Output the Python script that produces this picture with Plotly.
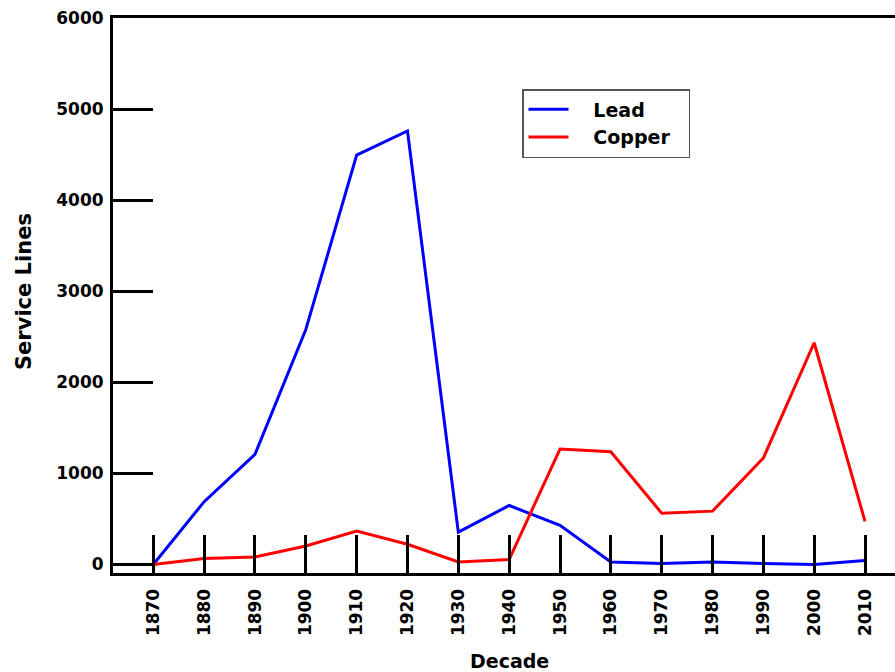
import plotly.graph_objects as go

decades = [1870, 1880, 1890, 1900, 1910, 1920, 1930, 1940, 1950, 1960, 1970, 1980, 1990, 2000, 2010]
lead = [0, 690, 1210, 2580, 4495, 4760, 356, 648, 430, 28, 11, 28, 11, 0, 45]
copper = [0, 66, 83, 203, 367, 222, 28, 55, 1268, 1238, 564, 586, 1169, 2435, 473]
y_ticks = [0, 1000, 2000, 3000, 4000, 5000, 6000]
x_tick_labels = [str(d) for d in decades]
series_names = ["Lead", "Copper"]

FONT = "DejaVu Sans, Verdana, sans-serif"

W, H = 895, 672
L, R, T, B = 113, 0, 18, 99
plot_w = W - L - R
plot_h = H - T - B

NB = "\u00a0"
fig = go.Figure()
fig.add_trace(go.Scatter(x=decades, y=lead, mode="lines",
                         name=NB * 3 + series_names[0],
                         line=dict(color="#0000ff", width=3)))
fig.add_trace(go.Scatter(x=decades, y=copper, mode="lines",
                         name=NB * 3 + series_names[1] + NB * 2,
                         line=dict(color="#ff0000", width=3)))

fig.update_layout(
    width=W, height=H,
    margin=dict(l=L, r=R, t=T, b=B, autoexpand=False),
    paper_bgcolor="white", plot_bgcolor="white",
    font=dict(family=FONT, color="black"),
    showlegend=True,
    legend=dict(x=(522 - L) / plot_w, y=(H - B - 89) / plot_h, xanchor="left", yanchor="top",
                bgcolor="white", bordercolor="#555555", borderwidth=1.5,
                font=dict(family=FONT, size=19, weight="bold", color="black"),
                tracegroupgap=0, itemwidth=40),
)
fig.add_annotation(text="Decade", x=(509 - L) / plot_w, xref="paper",
                   y=-(661 - (H - B)) / plot_h, yref="paper",
                   xanchor="center", yanchor="middle", showarrow=False,
                   font=dict(family=FONT, size=19, weight="bold", color="black"))
fig.add_annotation(text="Service Lines", x=-(L - 24) / plot_w, xref="paper",
                   y=((H - B) - 292) / plot_h, yref="paper", textangle=-90,
                   xanchor="center", yanchor="middle", showarrow=False,
                   font=dict(family=FONT, size=21, weight="bold", color="black"))

fig.update_xaxes(
    range=[1862.07, 2015.9], automargin=False,
    tickmode="array", tickvals=decades, ticktext=x_tick_labels,
    tickangle=-90,
    ticks="inside", ticklen=38, tickwidth=3, tickcolor="black",
    tickfont=dict(family=FONT, size=17, weight="bold", color="black"),
    ticklabelstandoff=6,
    showline=True, linewidth=3, linecolor="black", mirror=True,
    showgrid=False, zeroline=False,
)
fig.update_yaxes(
    range=[-93, 6000], automargin=False,
    tickmode="array", tickvals=y_ticks,
    ticks="inside", ticklen=40, tickwidth=3, tickcolor="black",
    tickfont=dict(family=FONT, size=17, weight="bold", color="black"),
    ticklabelstandoff=3,
    showline=True, linewidth=3, linecolor="black", mirror=False,
    showgrid=False, zeroline=False,
)

fig.write_html("out.html", config={"displayModeBar": False},
               post_script="document.body.style.margin='0';document.body.style.overflow='hidden';")
